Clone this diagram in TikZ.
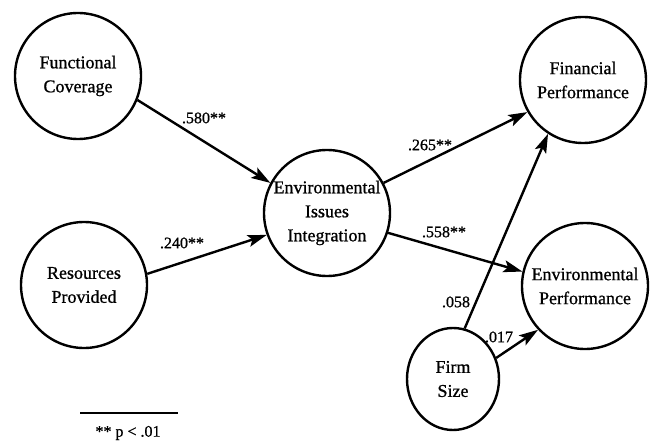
\documentclass[tikz,border=0pt]{standalone}
\usepackage{fontspec}
\setmainfont[FakeBold=0.9]{Liberation Serif}
\usetikzlibrary{arrows.meta,shapes.geometric}
\tikzset{
  var/.style={draw,circle,line width=2.4pt,minimum size=126pt,inner sep=0pt,
    align=center,font=\fontsize{18}{24}\selectfont},
  effect/.style={line width=2.4pt,-{Stealth[length=19pt,width=12pt,inset=4pt]}},
  coef/.style={inner sep=1pt,font=\fontsize{16}{18}\selectfont}
}
\begin{document}
\begin{tikzpicture}[x=1pt,y=-1pt]
\useasboundingbox (0,0) rectangle (651,441);
% latent variables
\node[var] (fc) at (78,76) {Functional\\Coverage};
\node[var] (rp) at (84,285) {Resources\\Provided};
\node[var] (eii) at (327,213) {Environmental\\Issues\\Integration};
\node[var] (fp) at (583,80) {Financial\\Performance};
\node[var] (ep) at (585,286) {Environmental\\Performance};
\node[var,ellipse,minimum width=92pt,minimum height=102pt] (fs) at (453,379) {Firm\\Size};

% paths
\draw[effect] (fc.-22) -- (eii.152);
\draw[effect] (rp.10) -- (eii.200);
\draw[effect] (eii.28) -- (fp.210);
\draw[effect] (eii.-18) -- (ep.167);
\draw[effect] (fs.77) -- (fp.237);
\draw[effect] (fs.26) -- (ep.223);

% coefficients
\node[coef] (c1) at (204,118) {.580**};
\node[coef] (c2) at (430,145) {.265**};
\node[coef] (c3) at (182,243) {.240**};
\node[coef] (c4) at (444,232) {.558**};
\node[coef] (c5) at (456,302) {.058};
\node[coef] (c6) at (499,337) {.017};

% note
\coordinate (l1) at (80,413);
\coordinate (l2) at (178,413);
\draw[line width=2.2pt] (l1) -- (l2);
\node[coef] (note) at (128,433) {** p < .01};
\end{tikzpicture}
\end{document}
